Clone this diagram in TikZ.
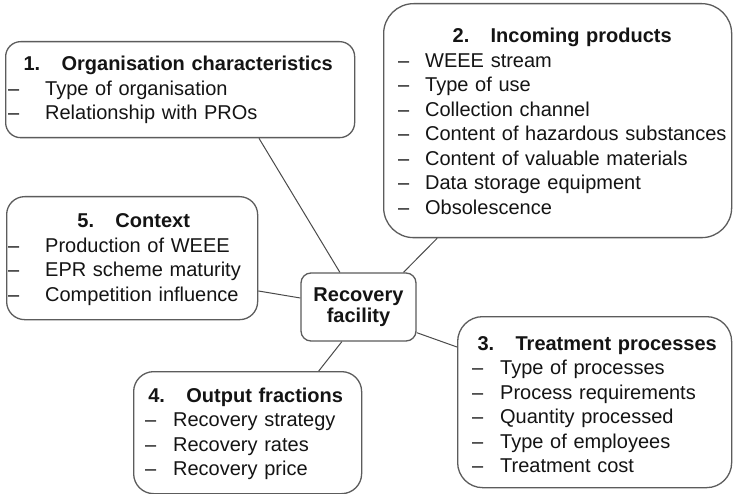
\documentclass[tikz,border=0pt]{standalone}
\usepackage{fontspec}
\setmainfont{Liberation Sans}
\usetikzlibrary{calc}
\definecolor{boxgray}{HTML}{5C5C5C}
\definecolor{linegray}{HTML}{4A4A4A}
\definecolor{ink}{HTML}{141414}
% heading line of a panel: number, gap, title, centred across the given width
\newcommand{\paneltitle}[3]{\makebox[#1][c]{\bfseries\makebox[38pt][l]{#2}#3}}
% list entry with a dash and a fixed indent
\newcommand{\entry}[2]{\makebox[#1][l]{\textendash}#2}
\begin{document}
\begin{tikzpicture}[x=1pt,y=-1pt,
  panel/.style={draw=boxgray, line width=1.3pt, fill=white, anchor=north west, inner sep=0pt},
  listtext/.style={anchor=base west, inner sep=0pt, text width=420pt, align=left,
    font=\fontsize{20}{24.5}\selectfont, text=ink},
  link/.style={draw=linegray, line width=1pt}
]
\useasboundingbox[fill=white] (0,0) rectangle (733,494);

% panels
\node[panel, rounded corners=15pt, minimum width=349pt, minimum height=96pt] (b1) at (5,41) {};
\node[panel, rounded corners=30pt, minimum width=348pt, minimum height=234pt] (b2) at (383,3) {};
\node[panel, rounded corners=18pt, minimum width=251pt, minimum height=123pt] (b5) at (6,196) {};
\node[panel, rounded corners=20pt, minimum width=228pt, minimum height=122pt] (b4) at (133,371) {};
\node[panel, rounded corners=25pt, minimum width=274pt, minimum height=171pt] (b3) at (457,316) {};
\node[panel, anchor=center, rounded corners=10pt, minimum width=115pt, minimum height=68pt,
  align=center, text=ink, font=\bfseries\fontsize{20}{20.5}\selectfont] (c) at (358.5,307) {Recovery\\facility};

% panel contents
\node[listtext] (t1) at (8,71) {\paneltitle{340pt}{1.}{Organisation characteristics}\\
  \entry{37pt}{Type of organisation}\\
  \entry{37pt}{Relationship with PROs}};
\node[listtext] (t2) at (398,43) {\paneltitle{328pt}{2.}{Incoming products}\\
  \entry{27pt}{WEEE stream}\\
  \entry{27pt}{Type of use}\\
  \entry{27pt}{Collection channel}\\
  \entry{27pt}{Content of hazardous substances}\\
  \entry{27pt}{Content of valuable materials}\\
  \entry{27pt}{Data storage equipment}\\
  \entry{27pt}{Obsolescence}};
\node[listtext] (t3) at (472,350) {\paneltitle{250pt}{3.}{Treatment processes}\\
  \entry{28pt}{Type of processes}\\
  \entry{28pt}{Process requirements}\\
  \entry{28pt}{Quantity processed}\\
  \entry{28pt}{Type of employees}\\
  \entry{28pt}{Treatment cost}};
\node[listtext] (t4) at (145,402) {\paneltitle{201pt}{4.}{Output fractions}\\
  \entry{28pt}{Recovery strategy}\\
  \entry{28pt}{Recovery rates}\\
  \entry{28pt}{Recovery price}};
\node[listtext] (t5) at (8,228) {\paneltitle{251pt}{5.}{Context}\\
  \entry{37pt}{Production of WEEE}\\
  \entry{37pt}{EPR scheme maturity}\\
  \entry{37pt}{Competition influence}};

% connectors to the central node
\draw[link] ($(b1.south west)!0.725!(b1.south east)$) -- ($(c.north west)!0.34!(c.north east)$);
\draw[link] ($(b2.south west)!0.155!(b2.south east)$) -- ($(c.north west)!0.887!(c.north east)$);
\draw[link] ($(b5.north east)!0.764!(b5.south east)$) -- ($(c.north west)!0.37!(c.south west)$);
\draw[link] ($(c.south west)!0.357!(c.south east)$) -- ($(b4.north west)!0.81!(b4.north east)$);
\draw[link] ($(c.north east)!0.87!(c.south east)$) -- ($(b3.north west)!0.18!(b3.south west)$);
\end{tikzpicture}
\end{document}
